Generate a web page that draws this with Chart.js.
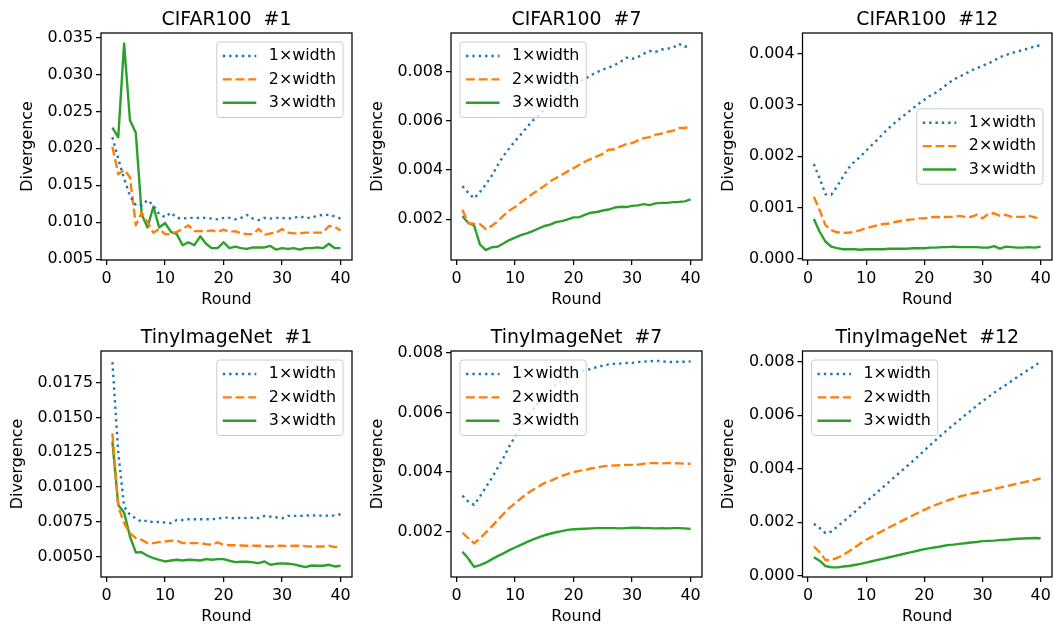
<!DOCTYPE html>
<html>
<head>
<meta charset="utf-8">
<script src="https://cdn.jsdelivr.net/npm/chart.js@4.4.1/dist/chart.umd.min.js"></script>
<style>
  html, body { margin: 0; padding: 0; background: #fff; overflow: hidden; }
  #fig { position: relative; width: 1053px; height: 626px; }
  #fig canvas { position: absolute; }
</style>
</head>
<body>
<div id="fig"></div>
<script>
// ---- data ----
const rounds = [1,2,3,4,5,6,7,8,9,10,11,12,13,14,15,16,17,18,19,20,21,22,23,24,25,26,27,28,29,30,31,32,33,34,35,36,37,38,39,40];
const seriesLabels = ['1×width', '2×width', '3×width'];
const xTicks = [0, 10, 20, 30, 40];

// CIFAR100 #1
const cifar1W1 = [0.0215,0.0186,0.0159,0.0136,0.0123,0.0123,0.0130,0.0123,0.0111,0.0107,0.0113,0.0106,0.0105,0.0106,0.0106,0.0106,0.0106,0.0105,0.0104,0.0106,0.0106,0.0104,0.0106,0.0110,0.0105,0.0103,0.0106,0.0105,0.0106,0.0106,0.0105,0.0106,0.0108,0.0106,0.0106,0.0109,0.0110,0.0110,0.0108,0.0105];
const cifar1W2 = [0.0202,0.0165,0.0171,0.0161,0.0096,0.0113,0.0100,0.0086,0.0091,0.0084,0.0084,0.0087,0.0091,0.0096,0.0088,0.0088,0.0088,0.0089,0.0087,0.0090,0.0087,0.0088,0.0085,0.0084,0.0084,0.0091,0.0083,0.0085,0.0086,0.0091,0.0086,0.0085,0.0085,0.0086,0.0086,0.0086,0.0086,0.0095,0.0094,0.0089];
const cifar1W3 = [0.0228,0.0215,0.0342,0.0238,0.0221,0.0111,0.0093,0.0121,0.0093,0.0099,0.0087,0.0084,0.0069,0.0073,0.0069,0.0081,0.0071,0.0065,0.0065,0.0073,0.0065,0.0067,0.0065,0.0064,0.0066,0.0066,0.0066,0.0068,0.0063,0.0065,0.0064,0.0065,0.0063,0.0065,0.0065,0.0066,0.0065,0.0071,0.0065,0.0065];
const cifar1Ticks = [0.005, 0.010, 0.015, 0.020, 0.025, 0.030, 0.035];

// CIFAR100 #7
const cifar7W1 = [0.00334,0.00307,0.00284,0.00310,0.00341,0.00375,0.00418,0.00456,0.00487,0.00517,0.00544,0.00572,0.00600,0.00621,0.00646,0.00673,0.00697,0.00716,0.00734,0.00751,0.00758,0.00770,0.00785,0.00797,0.00808,0.00815,0.00826,0.00838,0.00856,0.00851,0.00858,0.00872,0.00883,0.00879,0.00889,0.00892,0.00896,0.00912,0.00900,0.00906];
const cifar7W2 = [0.00238,0.00184,0.00181,0.00180,0.00159,0.00173,0.00190,0.00214,0.00235,0.00249,0.00268,0.00285,0.00303,0.00319,0.00335,0.00353,0.00367,0.00380,0.00394,0.00407,0.00421,0.00434,0.00445,0.00455,0.00465,0.00482,0.00484,0.00495,0.00505,0.00509,0.00520,0.00529,0.00533,0.00543,0.00547,0.00554,0.00559,0.00570,0.00570,0.00577];
const cifar7W3 = [0.00212,0.00185,0.00174,0.00097,0.00074,0.00086,0.00088,0.00101,0.00115,0.00125,0.00135,0.00142,0.00151,0.00162,0.00172,0.00178,0.00188,0.00192,0.00199,0.00207,0.00208,0.00218,0.00226,0.00229,0.00235,0.00239,0.00247,0.00250,0.00249,0.00254,0.00256,0.00261,0.00257,0.00264,0.00266,0.00266,0.00269,0.00270,0.00272,0.00280];
const cifar7Ticks = [0.002, 0.004, 0.006, 0.008];

// CIFAR100 #12
const cifar12W1 = [0.00185,0.00157,0.00126,0.00125,0.00141,0.00160,0.00177,0.00190,0.00199,0.00211,0.00222,0.00233,0.00245,0.00256,0.00266,0.00275,0.00284,0.00293,0.00302,0.00310,0.00318,0.00324,0.00332,0.00341,0.00349,0.00355,0.00360,0.00367,0.00371,0.00376,0.00381,0.00386,0.00393,0.00397,0.00401,0.00404,0.00407,0.00410,0.00414,0.00416];
const cifar12W2 = [0.00121,0.00095,0.00066,0.00056,0.00052,0.00051,0.00051,0.00053,0.00056,0.00060,0.00063,0.00066,0.00068,0.00069,0.00072,0.00074,0.00076,0.00077,0.00079,0.00079,0.00081,0.00082,0.00081,0.00082,0.00082,0.00084,0.00082,0.00082,0.00086,0.00079,0.00088,0.00089,0.00084,0.00086,0.00082,0.00082,0.00082,0.00084,0.00081,0.00078];
const cifar12W3 = [0.00078,0.00053,0.00034,0.00024,0.00021,0.00019,0.00019,0.00019,0.00018,0.00019,0.00019,0.00019,0.00019,0.00020,0.00020,0.00020,0.00020,0.00021,0.00021,0.00021,0.00022,0.00022,0.00023,0.00023,0.00024,0.00023,0.00023,0.00023,0.00023,0.00022,0.00022,0.00025,0.00020,0.00024,0.00023,0.00022,0.00022,0.00023,0.00022,0.00024];
const cifar12Ticks = [0.000, 0.001, 0.002, 0.003, 0.004];

// TinyImageNet #1
const tiny1W1 = [0.0190,0.0125,0.0086,0.0080,0.00775,0.0075,0.0076,0.00744,0.0075,0.00744,0.0074,0.00763,0.00763,0.00768,0.00768,0.00768,0.00768,0.00768,0.00773,0.0078,0.0078,0.00773,0.0078,0.00776,0.0078,0.00776,0.00792,0.00787,0.00782,0.00775,0.00792,0.00792,0.00792,0.00794,0.00797,0.00794,0.00794,0.00794,0.00794,0.00804];
const tiny1W2 = [0.01386,0.0086,0.0074,0.00668,0.00632,0.0062,0.00596,0.00596,0.00603,0.00608,0.00613,0.00615,0.00596,0.00596,0.00596,0.00596,0.00589,0.00584,0.00601,0.00584,0.00581,0.00581,0.00579,0.00577,0.00577,0.00577,0.00574,0.00572,0.00577,0.00577,0.00574,0.00577,0.00577,0.00574,0.00572,0.00572,0.00572,0.00577,0.00567,0.00572];
const tiny1W3 = [0.01326,0.00871,0.00816,0.00644,0.00529,0.00531,0.00505,0.00488,0.00476,0.00464,0.00471,0.00476,0.00471,0.00476,0.00474,0.00471,0.00481,0.00476,0.00481,0.00481,0.00469,0.00459,0.00462,0.00462,0.00457,0.00452,0.00464,0.00440,0.00447,0.00450,0.00447,0.00443,0.00433,0.00423,0.00435,0.00433,0.00433,0.00440,0.00428,0.00433];
const tiny1Ticks = [0.0050, 0.0075, 0.0100, 0.0125, 0.0150, 0.0175];

// TinyImageNet #7
const tiny7W1 = [0.00321,0.00301,0.00290,0.00318,0.00349,0.00379,0.00413,0.00447,0.00486,0.00520,0.00551,0.00581,0.00609,0.00634,0.00654,0.00677,0.00693,0.00707,0.00716,0.00724,0.00735,0.00741,0.00746,0.00752,0.00757,0.00761,0.00763,0.00764,0.00766,0.00766,0.00769,0.00770,0.00772,0.00773,0.00772,0.00769,0.00769,0.00770,0.00770,0.00771];
const tiny7W2 = [0.00197,0.00178,0.00161,0.00178,0.00197,0.00217,0.00239,0.00259,0.00279,0.00295,0.00312,0.00327,0.00340,0.00351,0.00363,0.00370,0.00379,0.00387,0.00394,0.00400,0.00404,0.00407,0.00412,0.00415,0.00419,0.00421,0.00422,0.00423,0.00424,0.00424,0.00425,0.00428,0.00430,0.00430,0.00429,0.00430,0.00430,0.00429,0.00428,0.00428];
const tiny7W3 = [0.00133,0.00110,0.00082,0.00088,0.00096,0.00107,0.00118,0.00127,0.00138,0.00147,0.00156,0.00165,0.00173,0.00181,0.00188,0.00193,0.00198,0.00202,0.00206,0.00208,0.00209,0.00210,0.00211,0.00212,0.00212,0.00212,0.00212,0.00211,0.00212,0.00213,0.00213,0.00212,0.00212,0.00211,0.00212,0.00211,0.00212,0.00212,0.00211,0.00209];
const tiny7Ticks = [0.002, 0.004, 0.006, 0.008];

// TinyImageNet #12
const tiny12W1 = [0.00194,0.00178,0.00159,0.00165,0.00183,0.00201,0.00219,0.00238,0.00257,0.00276,0.00295,0.00314,0.00333,0.00352,0.00371,0.00390,0.00409,0.00428,0.00448,0.00468,0.00488,0.00508,0.00527,0.00546,0.00564,0.00582,0.00600,0.00617,0.00635,0.00652,0.00668,0.00684,0.00699,0.00713,0.00728,0.00743,0.00757,0.00771,0.00785,0.00801];
const tiny12W2 = [0.00109,0.00088,0.00058,0.00059,0.00066,0.00077,0.00090,0.00105,0.00120,0.00134,0.00146,0.00158,0.00170,0.00181,0.00192,0.00203,0.00214,0.00225,0.00236,0.00246,0.00256,0.00265,0.00273,0.00281,0.00288,0.00295,0.00301,0.00306,0.00310,0.00314,0.00319,0.00324,0.00329,0.00334,0.00339,0.00344,0.00349,0.00354,0.00358,0.00364];
const tiny12W3 = [0.00069,0.00056,0.00036,0.00031,0.00031,0.00034,0.00036,0.00040,0.00044,0.00049,0.00054,0.00059,0.00064,0.00069,0.00074,0.00079,0.00084,0.00089,0.00094,0.00099,0.00103,0.00106,0.00110,0.00114,0.00116,0.00119,0.00121,0.00124,0.00126,0.00129,0.00130,0.00131,0.00133,0.00134,0.00136,0.00138,0.00139,0.00140,0.00141,0.00140];
const tiny12Ticks = [0.000, 0.002, 0.004, 0.006, 0.008];

// ---- styling / layout ----
const FONT = '"DejaVu Sans", sans-serif';
const TICK_PX = 15.9;
const TITLE_PX = 18.9;
const colors = ['#1f77b4', '#ff7f0e', '#2ca02c'];
const dashes = [[2.4, 3.95], [8.9, 3.85], []];
const LW = 2.4;

// box = chart area (left, top, right, bottom) in page px, ylab = centre of y title
const panels = [
  { title: 'CIFAR100  #1', series: [cifar1W1, cifar1W2, cifar1W3], ticks: cifar1Ticks, min: 0.0049, max: 0.0356, dec: 3, legend: 'upper right',
    box: [101, 33, 352, 260], ylab: 28 },
  { title: 'CIFAR100  #7', series: [cifar7W1, cifar7W2, cifar7W3], ticks: cifar7Ticks, min: 0.00034, max: 0.00956, dec: 3, legend: 'upper left',
    box: [451, 33, 702, 260], ylab: 378 },
  { title: 'CIFAR100  #12', series: [cifar12W1, cifar12W2, cifar12W3], ticks: cifar12Ticks, min: -0.00002, max: 0.0044, dec: 3, legend: 'center right',
    box: [802.5, 33, 1052, 260], ylab: 729 },
  { title: 'TinyImageNet  #1', series: [tiny1W1, tiny1W2, tiny1W3], ticks: tiny1Ticks, min: 0.00352, max: 0.0198, dec: 4, legend: 'upper right',
    box: [101, 351, 352, 577], ylab: 18 },
  { title: 'TinyImageNet  #7', series: [tiny7W1, tiny7W2, tiny7W3], ticks: tiny7Ticks, min: 0.00048, max: 0.00806, dec: 3, legend: 'upper left',
    box: [451, 351, 702, 577], ylab: 378 },
  { title: 'TinyImageNet  #12', series: [tiny12W1, tiny12W2, tiny12W3], ticks: tiny12Ticks, min: -0.00005, max: 0.0084, dec: 3, legend: 'upper left',
    box: [802.5, 351, 1052, 577], ylab: 729 }
];

function roundRectPath(ctx, x, y, w, h, r) {
  ctx.beginPath();
  ctx.moveTo(x + r, y);
  ctx.lineTo(x + w - r, y);
  ctx.arcTo(x + w, y, x + w, y + r, r);
  ctx.lineTo(x + w, y + h - r);
  ctx.arcTo(x + w, y + h, x + w - r, y + h, r);
  ctx.lineTo(x + r, y + h);
  ctx.arcTo(x, y + h, x, y + h - r, r);
  ctx.lineTo(x, y + r);
  ctx.arcTo(x, y, x + r, y, r);
  ctx.closePath();
}

// frame (all four spines) + matplotlib-like legend
const frameAndLegend = {
  id: 'frameAndLegend',
  afterDraw(chart, args, opts) {
    const { ctx, chartArea: a } = chart;
    ctx.save();
    ctx.strokeStyle = '#000';
    ctx.lineWidth = 1.25;
    ctx.strokeRect(a.left, a.top, a.right - a.left, a.bottom - a.top);

    ctx.font = TICK_PX + 'px ' + FONT;
    const sets = chart.data.datasets;
    const textW = Math.max(...sets.map(d => ctx.measureText(d.label).width));
    const w = 52 + textW + 7;
    const h = 75.5;
    let x, y;
    if (opts.loc === 'upper left') {
      x = a.left + 9; y = a.top + 9;
    } else if (opts.loc === 'upper right') {
      x = a.right - 9 - w; y = a.top + 9;
    } else {
      x = a.right - 9 - w; y = (a.top + a.bottom) / 2 - h / 2;
    }
    roundRectPath(ctx, x, y, w, h, 3);
    ctx.fillStyle = 'rgba(255,255,255,0.8)';
    ctx.fill();
    ctx.strokeStyle = '#cccccc';
    ctx.lineWidth = 1;
    ctx.stroke();

    sets.forEach((d, i) => {
      const cy = y + 14 + i * 23.4;
      ctx.beginPath();
      ctx.setLineDash(d.borderDash);
      ctx.lineCap = 'butt';
      ctx.lineWidth = d.borderWidth;
      ctx.strokeStyle = d.borderColor;
      ctx.moveTo(x + 6, cy);
      ctx.lineTo(x + 39.5, cy);
      ctx.stroke();
      ctx.setLineDash([]);
      ctx.fillStyle = '#000';
      ctx.textAlign = 'left';
      ctx.textBaseline = 'middle';
      ctx.fillText(d.label, x + 52, cy);
    });
    ctx.restore();
  }
};

const fig = document.getElementById('fig');
const titleLH = TITLE_PX * 1.2;
const tickLH = TICK_PX * 1.2;

panels.forEach(p => {
  const [L, T, R, B] = p.box;
  const cl = p.ylab - 12;
  const ct = T - 33;
  const cw = Math.round(R - cl + 3);
  const ch = Math.round(B - ct + 50);

  const canvas = document.createElement('canvas');
  canvas.width = cw;
  canvas.height = ch;
  canvas.style.left = cl + 'px';
  canvas.style.top = ct + 'px';
  canvas.style.width = cw + 'px';
  canvas.style.height = ch + 'px';
  fig.appendChild(canvas);

  // title centre sits ~13 px above the axes box
  const titlePadTop = 33 - 13 - titleLH / 2;
  const titlePadBottom = 33 - titlePadTop - titleLH;

  new Chart(canvas, {
    type: 'line',
    data: {
      datasets: p.series.map((s, i) => ({
        label: seriesLabels[i],
        data: rounds.map((r, k) => ({ x: r, y: s[k] })),
        borderColor: colors[i],
        backgroundColor: colors[i],
        borderWidth: LW,
        borderDash: dashes[i],
        borderCapStyle: 'butt',
        borderJoinStyle: 'round',
        pointRadius: 0,
        tension: 0,
        fill: false
      }))
    },
    options: {
      responsive: false,
      animation: false,
      devicePixelRatio: 1,
      layout: { padding: { left: 0, top: 0, right: cw - (R - cl), bottom: 0 } },
      plugins: {
        legend: { display: false },
        tooltip: { enabled: false },
        title: {
          display: true,
          text: p.title,
          color: '#000',
          fullSize: false,
          font: { family: FONT, size: TITLE_PX, weight: 'normal', lineHeight: 1.2 },
          padding: { top: titlePadTop, bottom: titlePadBottom }
        },
        frameAndLegend: { loc: p.legend }
      },
      scales: {
        x: {
          type: 'linear',
          min: -0.95,
          max: 41.95,
          afterBuildTicks: axis => { axis.ticks = xTicks.map(v => ({ value: v })); },
          afterFit: axis => { axis.height = ch - (B - ct); },
          grid: { display: true, drawOnChartArea: false, drawTicks: true, tickLength: 5, color: '#000', lineWidth: 1.25 },
          border: { display: false },
          ticks: {
            autoSkip: false, maxRotation: 0, padding: 4, color: '#000',
            font: { family: FONT, size: TICK_PX },
            callback: v => String(v)
          },
          title: {
            display: true, text: 'Round', color: '#000',
            font: { family: FONT, size: TICK_PX, lineHeight: 1.2 },
            padding: { top: 0, bottom: 50 - 40 - tickLH / 2 }
          }
        },
        y: {
          type: 'linear',
          min: p.min,
          max: p.max,
          afterBuildTicks: axis => { axis.ticks = p.ticks.map(v => ({ value: v })); },
          afterFit: axis => { axis.width = L - cl; },
          grid: { display: true, drawOnChartArea: false, drawTicks: true, tickLength: 5, color: '#000', lineWidth: 1.25 },
          border: { display: false },
          ticks: {
            autoSkip: false, padding: 3, color: '#000',
            font: { family: FONT, size: TICK_PX },
            callback: v => v.toFixed(p.dec)
          },
          title: {
            display: true, text: 'Divergence', color: '#000',
            font: { family: FONT, size: TICK_PX, lineHeight: 1.2 },
            padding: { top: 12 - tickLH / 2, bottom: 0 }
          }
        }
      }
    },
    plugins: [frameAndLegend]
  });
});
</script>
</body>
</html>
